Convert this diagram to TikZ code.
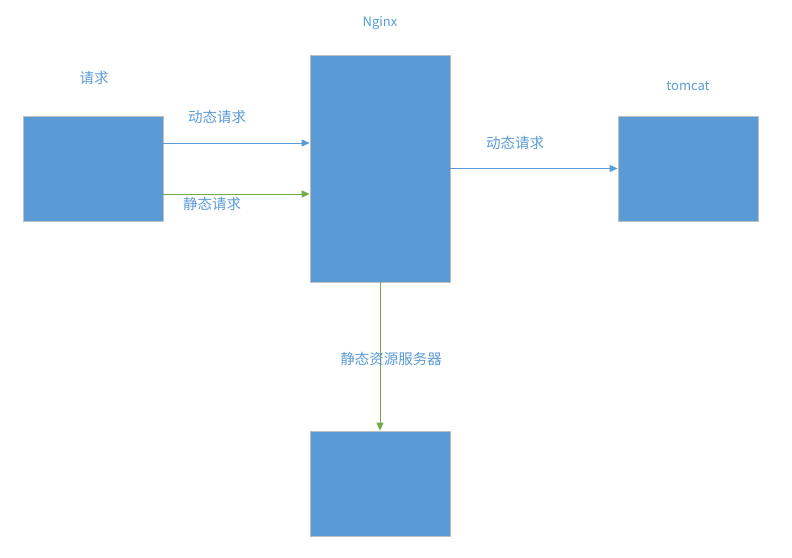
\documentclass[tikz,border=0pt]{standalone}
\usepackage{fontspec}
\setmainfont{Noto Sans CJK SC}
\usepackage{tikz}
\usetikzlibrary{positioning, arrows.meta}

\definecolor{boxblue}{HTML}{5B9BD5}
\definecolor{linegreen}{HTML}{70AD47}
\definecolor{edgegray}{HTML}{BFBFBF}

\tikzset{
  srvbox/.style={draw=edgegray, fill=boxblue, line width=0.8pt, minimum width=140pt, inner sep=0pt},
  lbl/.style={text=boxblue, font=\fontsize{14.5}{17}\selectfont, inner sep=0pt},
  latinlbl/.style={lbl, font=\fontsize{13}{15}\selectfont},
  dynarrow/.style={draw=boxblue, line width=0.9pt, -{Triangle[length=8pt,width=7pt]}},
  statarrow/.style={draw=linegreen, line width=0.9pt, -{Triangle[length=8pt,width=7pt]}}
}

\begin{document}
\begin{tikzpicture}[x=1pt, y=-1pt]
    \useasboundingbox (0,0) rectangle (792,557);

    % Boxes
    \node[srvbox, minimum height=105pt] (client) at (93,168.5) {};
    \node[srvbox, minimum height=227pt] (nginx) at (380,168.5) {};
    \node[srvbox, minimum height=105pt] (tomcat) at (688,168.5) {};
    \node[srvbox, minimum height=105pt] (static) at (380,483.5) {};

    % Titles
    \node[lbl] (clientlbl) at (94,78) {请求};
    \node[latinlbl] (nginxlbl) at (380,23) {Nginx};
    \node[latinlbl] (tomcatlbl) at (688,86) {tomcat};

    % Requests
    \draw[dynarrow] ([yshift=25.5pt]client.east) -- ([yshift=25.5pt]nginx.west);
    \draw[statarrow] ([yshift=-25.5pt]client.east) -- ([yshift=-25.5pt]nginx.west);
    \draw[dynarrow] (nginx.east) -- (tomcat.west);
    \draw[statarrow] (nginx.south) -- (static.north);

    % Arrow labels
    \node[lbl] (dynlbl) at (217,117) {动态请求};
    \node[lbl] (statlbl) at (212,204) {静态请求};
    \node[lbl] (dynlbl2) at (515,143) {动态请求};
    \node[lbl] (staticlbl) at (391,359) {静态资源服务器};
\end{tikzpicture}
\end{document}
